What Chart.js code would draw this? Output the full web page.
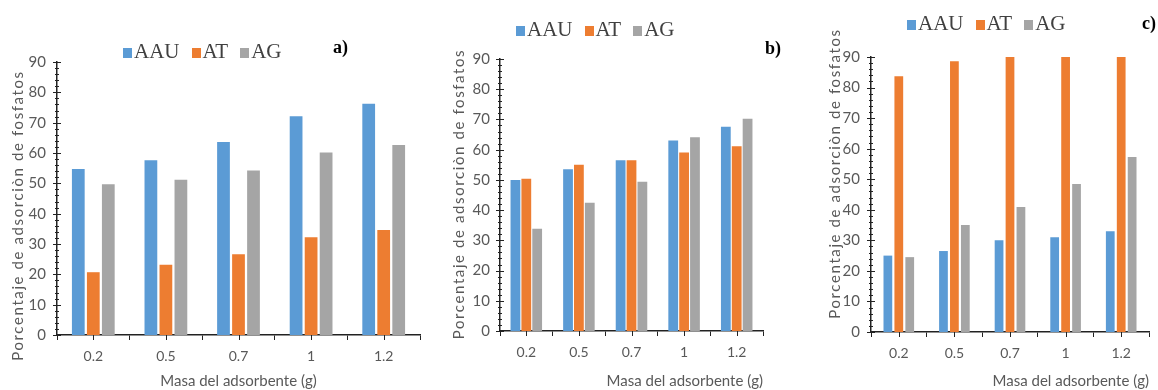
<!DOCTYPE html>
<html>
<head>
<meta charset="utf-8">
<script src="https://cdn.jsdelivr.net/npm/chart.js@4.4.1/dist/chart.umd.min.js"></script>
<style>
  body { margin: 0; background: #fff; }
  #lienzo { position: relative; width: 1158px; height: 390px; overflow: hidden; }
  canvas { position: absolute; top: 0; }
  .leyenda { position: absolute; font-family: "Liberation Serif", serif; font-size: 21px; line-height: 20px; color: #404040; white-space: nowrap; }
  .leyenda span.caja { display: inline-block; width: 9px; height: 10px; margin-right: 2px; }
  .leyenda span.item { margin-right: 12px; }
  .letra { position: absolute; font-family: "Liberation Serif", serif; font-weight: bold; font-size: 18px; line-height: 18px; color: #000; }
</style>
</head>
<body>
<div id="lienzo">
  <canvas id="graficoA" width="432" height="390" style="left:0px"></canvas>
  <canvas id="graficoB" width="340" height="390" style="left:440px"></canvas>
  <canvas id="graficoC" width="343" height="390" style="left:815px"></canvas>
  <div class="leyenda" id="leyendaA" style="left:123px; top:41px"></div>
  <div class="leyenda" id="leyendaB" style="left:516px; top:19px"></div>
  <div class="leyenda" id="leyendaC" style="left:907px; top:13px"></div>
  <div class="letra" style="left:333px; top:38px">a)</div>
  <div class="letra" style="left:765px; top:39px">b)</div>
  <div class="letra" style="left:1142px; top:14px">c)</div>
</div>
<script>
// DATOS
const masas = ["0.2", "0.5", "0.7", "1", "1.2"];
const nombres = ["AAU", "AT", "AG"];
const colores = ["#5B9BD5", "#ED7D31", "#A5A5A5"];
const ticksY = [0, 10, 20, 30, 40, 50, 60, 70, 80, 90];

// panel a)
const aauA = [54.7, 57.6, 63.6, 72.1, 76.2];
const atA = [20.7, 23.2, 26.6, 32.2, 34.6];
const agA = [49.7, 51.2, 54.2, 60.2, 62.6];
// panel b)
const aauB = [50.0, 53.5, 56.5, 63.0, 67.6];
const atB = [50.4, 55.0, 56.5, 59.1, 61.1];
const agB = [33.8, 42.4, 49.4, 64.1, 70.2];
// panel c)
const aauC = [25.0, 26.5, 30.0, 31.0, 33.0];
const atC = [83.7, 88.6, 90, 90, 90];
const agC = [24.5, 35.0, 40.9, 48.4, 57.3];

const tituloY = "Porcentaje de adsorciòn de fosfatos";
const tituloX = "Masa del adsorbente (g)";

const fuente = "Lato";
const grisTexto = "#595959";
const ejeColor = "#222";

//PLUGIN PARA MARCAS MENORES DEL EJE Y Y MARCAS CENTRALES DEL EJE X
const marcasMenores = {
  id: "marcasMenores",
  afterDraw(chart) {
    const ctx = chart.ctx;
    const y = chart.scales.y;
    const x = chart.scales.x;
    const izq = chart.chartArea.left;
    const abajo = chart.chartArea.bottom;
    ctx.save();
    ctx.strokeStyle = ejeColor;
    ctx.lineWidth = 1;
    for (let v = 0; v <= 90; v += 2) {
      const py = Math.round(y.getPixelForValue(v)) + 0.5;
      const largo = v % 10 === 0 ? 4 : 2;
      ctx.beginPath();
      ctx.moveTo(izq - largo, py);
      ctx.lineTo(izq + largo, py);
      ctx.stroke();
    }
    for (let i = 0; i < masas.length; i++) {
      const px = Math.round(x.getPixelForValue(i)) + 0.5;
      ctx.beginPath();
      ctx.moveTo(px, abajo);
      ctx.lineTo(px, abajo + 5);
      ctx.stroke();
    }
    ctx.restore();
  }
};

//PLUGIN PARA EL TITULO DEL EJE Y (letras espaciadas y corrido vertical)
const tituloEspaciado = {
  id: "tituloEspaciado",
  beforeDraw(chart, args, opts) {
    const ys = chart.scales.y;
    if (ys._envuelto) return;
    const original = ys.drawTitle;
    ys.drawTitle = function () {
      const ctx = this.ctx;
      ctx.save();
      ctx.letterSpacing = opts.espacio + "px";
      ctx.translate(0, opts.desplazar);
      original.call(this);
      ctx.restore();
    };
    ys._envuelto = true;
  }
};

//FUNCION GRAFICO CON PARAMETROS
function graficoBarras(idCanvas, aau, at, ag, conf) {
  const ctx = document.getElementById(idCanvas).getContext("2d");
  const series = [aau, at, ag];
  return new Chart(ctx, {
    type: "bar",
    data: {
      labels: masas,
      datasets: series.map((datos, i) => ({
        label: nombres[i],
        data: datos,
        backgroundColor: colores[i],
        borderWidth: 0,
        barPercentage: conf.barPct,
        categoryPercentage: conf.catPct,
      })),
    },
    options: {
      responsive: false,
      animation: false,
      layout: { padding: { top: conf.arriba, right: conf.derecha, left: 0, bottom: 0 } },
      plugins: {
        legend: { display: false },
        tooltip: { enabled: false },
        tituloEspaciado: { espacio: 1.6, desplazar: conf.despY },
      },
      scales: {
        x: {
          afterFit: (s) => { s.height = conf.altoX; },
          grid: { drawOnChartArea: false, offset: true, tickLength: 5, color: ejeColor, lineWidth: 1 },
          border: { display: true, color: ejeColor, width: 1.5 },
          ticks: { color: grisTexto, font: { family: fuente, size: 14 }, padding: 8 },
          title: {
            display: true, text: tituloX, color: grisTexto, align: conf.alinX,
            font: { family: fuente, size: 15 }, padding: { top: conf.padX, bottom: 0 },
          },
        },
        y: {
          min: 0,
          max: 90,
          afterFit: (s) => { s.width = conf.anchoY; },
          afterBuildTicks: (s) => { s.ticks = ticksY.map((v) => ({ value: v })); },
          grid: { display: false, drawTicks: false },
          border: { display: true, color: ejeColor, width: 1.5 },
          ticks: { color: grisTexto, font: { family: fuente, size: 15 }, padding: conf.padTicksY },
          title: {
            display: true, text: tituloY, color: grisTexto,
            font: { family: fuente, size: 15 }, padding: { top: conf.padY, bottom: 0 },
          },
        },
      },
    },
    plugins: [marcasMenores, tituloEspaciado],
  });
}

//FUNCION LEYENDA
function cargaLeyenda(idDiv) {
  let html = "";
  nombres.forEach((n, i) => {
    html += `<span class="item"><span class="caja" style="background:${colores[i]}"></span>${n}</span>`;
  });
  document.getElementById(idDiv).innerHTML = html;
}

graficoBarras("graficoA", aauA, atA, agA, {
  arriba: 62, derecha: 12, altoX: 55, anchoY: 57, padY: 9, padX: 3, despY: 17,
  padTicksY: 11, alinX: "center", barPct: 0.85, catPct: 0.62,
});
graficoBarras("graficoB", aauB, atB, agB, {
  arriba: 59, derecha: 17, altoX: 59, anchoY: 60, padY: 10, padX: 4, despY: -1,
  padTicksY: 10, alinX: "end", barPct: 0.9, catPct: 0.62,
});
graficoBarras("graficoC", aauC, atC, agC, {
  arriba: 57, derecha: 9, altoX: 58, anchoY: 56, padY: 11, padX: -1, despY: -21,
  padTicksY: 11, alinX: "end", barPct: 0.8, catPct: 0.59,
});

cargaLeyenda("leyendaA");
cargaLeyenda("leyendaB");
cargaLeyenda("leyendaC");
</script>
</body>
</html>
